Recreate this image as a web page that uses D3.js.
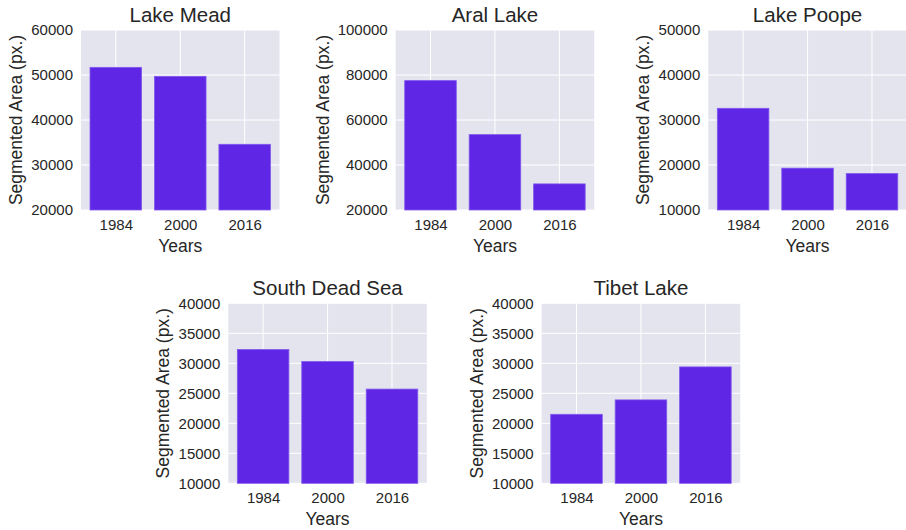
<!DOCTYPE html>
<html>
<head>
<meta charset="utf-8">
<script src="https://cdn.jsdelivr.net/npm/d3@7"></script>
<style>
  html, body { margin: 0; padding: 0; background: #ffffff; }
  svg { display: block; font-family: "Liberation Sans", Arial, sans-serif; }
</style>
</head>
<body>
<svg id="chart" width="906" height="530"></svg>
<script>
// Segmented lake area by survey year
const years = ["1984", "2000", "2016"];
const lakes = ["Lake Mead", "Aral Lake", "Lake Poope", "South Dead Sea", "Tibet Lake"];

const areaMead    = [51700, 49700, 34600];
const areaAral    = [77500, 53500, 31600];
const areaPoope   = [32600, 19300, 18100];
const areaDeadSea = [32300, 30300, 25700];
const areaTibet   = [21500, 23900, 29400];

const yTicksMead    = [20000, 30000, 40000, 50000, 60000];
const yTicksAral    = [20000, 40000, 60000, 80000, 100000];
const yTicksPoope   = [10000, 20000, 30000, 40000, 50000];
const yTicksDeadSea = [10000, 15000, 20000, 25000, 30000, 35000, 40000];
const yTicksTibet   = [10000, 15000, 20000, 25000, 30000, 35000, 40000];

const seriesValues = [areaMead, areaAral, areaPoope, areaDeadSea, areaTibet];
const seriesTicks  = [yTicksMead, yTicksAral, yTicksPoope, yTicksDeadSea, yTicksTibet];

// Panel placement (plot-area left / top), two rows
const panelPos = [
  [81, 30], [395.7, 30], [708.3, 30],
  [228.3, 303.3], [541.7, 303.3]
];
const plotW = 198.5, plotH = 180;

const svg = d3.select("#chart");
const textColor = "#262626";
const tickFont = "15px";

lakes.forEach((name, k) => {
  const [left, top] = panelPos[k];
  const values = seriesValues[k];
  const ticks = seriesTicks[k];

  const x = d3.scaleLinear().domain([-0.54, 2.54]).range([left, left + plotW]);
  const y = d3.scaleLinear().domain([ticks[0], ticks[ticks.length - 1]]).range([top + plotH, top]);

  const g = svg.append("g");

  // background
  g.append("rect")
    .attr("x", left).attr("y", top)
    .attr("width", plotW).attr("height", plotH)
    .attr("fill", "#e4e4ef");

  // grid
  g.selectAll("line.hgrid").data(ticks).join("line")
    .attr("class", "hgrid")
    .attr("x1", left).attr("x2", left + plotW)
    .attr("y1", d => y(d)).attr("y2", d => y(d))
    .attr("stroke", "#ffffff").attr("stroke-width", 1);
  g.selectAll("line.vgrid").data(years).join("line")
    .attr("class", "vgrid")
    .attr("x1", (d, i) => x(i)).attr("x2", (d, i) => x(i))
    .attr("y1", top).attr("y2", top + plotH)
    .attr("stroke", "#ffffff").attr("stroke-width", 1);

  // bars
  g.selectAll("rect.bar").data(values).join("rect")
    .attr("class", "bar")
    .attr("x", (d, i) => x(i - 0.4))
    .attr("width", (d, i) => x(i + 0.4) - x(i - 0.4))
    .attr("y", d => y(d))
    .attr("height", d => y(ticks[0]) - y(d))
    .attr("fill", "#5f26e6")
    .attr("stroke", "#8058ee")
    .attr("stroke-width", 0.8);

  // y axis
  const yAxis = g.append("g")
    .attr("transform", `translate(${left},0)`)
    .call(d3.axisLeft(y).tickValues(ticks).tickSize(0).tickPadding(8).tickFormat(d3.format("d")));
  yAxis.select(".domain").remove();
  yAxis.selectAll("text")
    .attr("fill", textColor)
    .style("font-size", tickFont)
    .style("font-family", "'Liberation Sans', Arial, sans-serif");

  // x axis
  const xAxis = g.append("g")
    .attr("transform", `translate(0,${top + plotH})`)
    .call(d3.axisBottom(x).tickValues([0, 1, 2]).tickSize(0).tickPadding(9).tickFormat(i => years[i]));
  xAxis.select(".domain").remove();
  xAxis.selectAll("text")
    .attr("fill", textColor)
    .style("font-size", tickFont)
    .style("font-family", "'Liberation Sans', Arial, sans-serif");

  // title
  g.append("text")
    .attr("x", left + plotW / 2).attr("y", top - 8)
    .attr("text-anchor", "middle")
    .attr("fill", textColor)
    .style("font-size", "20.5px")
    .text(name);

  // axis labels
  g.append("text")
    .attr("x", left + plotW / 2).attr("y", top + plotH + 42)
    .attr("text-anchor", "middle")
    .attr("fill", textColor)
    .style("font-size", "17.5px")
    .text("Years");

  const yLabelX = left - (k === 1 ? 73 : 65);
  g.append("text")
    .attr("transform", `translate(${yLabelX},${top + plotH / 2}) rotate(-90)`)
    .attr("text-anchor", "middle")
    .attr("dy", "0.35em")
    .attr("fill", textColor)
    .style("font-size", "17.5px")
    .text("Segmented Area (px.)");
});
</script>
</body>
</html>
